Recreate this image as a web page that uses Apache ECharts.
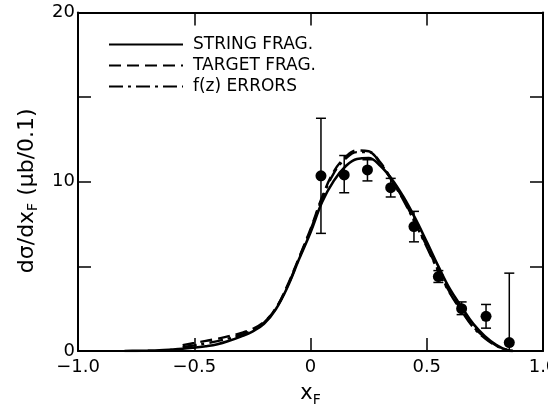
<!DOCTYPE html>
<html>
<head>
<meta charset="utf-8">
<script src="https://cdn.jsdelivr.net/npm/echarts@6/dist/echarts.min.js"></script>
<style>html,body{margin:0;padding:0;background:#fff}#c{width:548px;height:406px}</style>
</head>
<body>
<div id="c"></div>
<script>
// String fragmentation curve
var stringX = [-0.8,-0.75,-0.7,-0.65,-0.6,-0.55,-0.5,-0.45,-0.4,-0.35,-0.3,-0.25,-0.2,-0.15,-0.1,-0.05,0,0.05,0.1,0.15,0.2,0.25,0.3,0.35,0.4,0.45,0.5,0.55,0.6,0.65,0.7,0.75,0.8,0.85,0.87];
var stringY = [0,0.01,0.02,0.04,0.08,0.13,0.2,0.28,0.4,0.6,0.85,1.15,1.6,2.45,3.75,5.4,7.0,8.8,10.05,10.9,11.35,11.4,10.95,10.15,9.1,7.85,6.45,5.0,3.65,2.6,1.6,0.88,0.35,0.03,0];
// Target fragmentation and f(z) error curves
var altX = [-0.55,-0.5,-0.45,-0.4,-0.35,-0.3,-0.25,-0.2,-0.15,-0.1,-0.05,0,0.05,0.1,0.15,0.2,0.25,0.3,0.35,0.4,0.45,0.5,0.55,0.6,0.65,0.7,0.75,0.8,0.85,0.87];
var targetY = [0.35,0.47,0.6,0.72,0.88,1.05,1.3,1.72,2.5,3.85,5.5,7.2,9.1,10.6,11.45,11.85,11.8,11.15,10.1,8.95,7.6,6.2,4.75,3.45,2.4,1.45,0.8,0.32,0.04,0];
var fzY = [0.22,0.33,0.45,0.58,0.75,0.95,1.22,1.68,2.5,3.8,5.45,7.15,9.0,10.5,11.35,11.75,11.75,11.1,10.05,8.9,7.55,6.15,4.7,3.4,2.35,1.4,0.75,0.3,0.04,0];
// Data points with error bars
var ptX = [0.045,0.145,0.245,0.345,0.445,0.55,0.65,0.755,0.855];
var ptY = [10.35,10.4,10.7,9.65,7.35,4.4,2.5,2.05,0.5];
var ptLo = [6.95,9.35,10.05,9.1,6.45,4.05,2.15,1.35,0];
var ptHi = [13.75,11.55,11.3,10.2,8.25,4.75,2.9,2.75,4.6];
// Tick labels
var xTicks = {'-1':'−1.0','-0.5':'−0.5','0':'0','0.5':'0.5','1':'1.0'};
var yTicks = {'0':'0','10':'10','20':'20'};
var legendNames = ['STRING FRAG.','TARGET FRAG.','f(z) ERRORS'];

function zip(a,b){return a.map(function(v,i){return [v,b[i]];});}

var FONT = 'DejaVu Sans';
var chart = echarts.init(document.getElementById('c'), null, {renderer:'canvas'});
var axisCommon = {
  type:'value',
  axisLine:{show:true,onZero:false,lineStyle:{color:'#000',width:2}},
  axisTick:{show:true,inside:true,length:13,lineStyle:{color:'#000',width:1.5}},
  splitLine:{show:false}
};
chart.setOption({
  animation:false,
  backgroundColor:'#fff',
  textStyle:{fontFamily:FONT,color:'#000'},
  grid:{left:78,right:5,top:12.5,bottom:55,outerBoundsMode:'none',containLabel:false},
  legend:{
    data:legendNames,
    orient:'vertical',
    left:108, top:36, padding:0,
    itemWidth:74, itemHeight:14, itemGap:4,
    itemStyle:{color:'transparent',borderWidth:0,opacity:0},
    textStyle:{fontFamily:FONT,fontSize:17,color:'#000',padding:[0,0,0,5]},
    selectedMode:false
  },
  xAxis:[
    Object.assign({}, axisCommon, {
      min:-1,max:1,interval:0.5,position:'bottom',
      axisLabel:{show:true,color:'#000',fontFamily:FONT,fontSize:18,margin:7,
        formatter:function(v){var k=String(Math.round(v*10)/10);return xTicks[k]!==undefined?xTicks[k]:'';}},
      name:'{a|x}{s|F}', nameLocation:'middle', nameGap:30,
      nameTextStyle:{rich:{a:{fontFamily:FONT,fontSize:21,color:'#000',lineHeight:24},s:{fontFamily:FONT,fontSize:14,color:'#000',padding:[12,0,0,0]}}}
    }),
    Object.assign({}, axisCommon, {min:-1,max:1,interval:0.5,position:'top',axisLabel:{show:false}})
  ],
  yAxis:[
    Object.assign({}, axisCommon, {
      min:0,max:20,interval:5,position:'left',
      axisLabel:{show:true,color:'#000',fontFamily:FONT,fontSize:18,margin:3,
        formatter:function(v){var k=String(v);return yTicks[k]!==undefined?yTicks[k]:'';}},
      name:'{a|dσ/dx}{s|F}{a| (μb/0.1)}', nameLocation:'middle', nameGap:38,
      nameTextStyle:{padding:[0,18,0,0],rich:{a:{fontFamily:FONT,fontSize:22,color:'#000',lineHeight:24},s:{fontFamily:FONT,fontSize:14,color:'#000',padding:[12,0,0,0]}}}
    }),
    Object.assign({}, axisCommon, {min:0,max:20,interval:5,position:'right',axisLabel:{show:false}})
  ],
  series:[
    {name:legendNames[0],type:'line',data:zip(stringX,stringY),smooth:0.4,symbol:'none',showSymbol:false,
      lineStyle:{color:'#000',width:2.6,type:'solid'},itemStyle:{color:'#000'},z:3},
    {name:legendNames[1],type:'line',data:zip(altX,targetY),smooth:0.4,symbol:'none',showSymbol:false,
      lineStyle:{color:'#000',width:2.4,type:[12,6]},itemStyle:{color:'#000'},z:3},
    {name:legendNames[2],type:'line',data:zip(altX,fzY),smooth:0.4,symbol:'none',showSymbol:false,
      lineStyle:{color:'#000',width:2.4,type:[14,5,3,5]},itemStyle:{color:'#000'},z:3},
    {name:'errors',type:'custom',z:4,
      data:ptX.map(function(x,i){return [x,ptLo[i],ptHi[i]];}),
      renderItem:function(params,api){
        var lo=api.coord([api.value(0),api.value(1)]);
        var hi=api.coord([api.value(0),api.value(2)]);
        var w=5;
        var st={stroke:'#000',lineWidth:1.5};
        return {type:'group',children:[
          {type:'line',shape:{x1:hi[0],y1:hi[1],x2:lo[0],y2:lo[1]},style:st},
          {type:'line',shape:{x1:hi[0]-w,y1:hi[1],x2:hi[0]+w,y2:hi[1]},style:st},
          {type:'line',shape:{x1:lo[0]-w,y1:lo[1],x2:lo[0]+w,y2:lo[1]},style:st}
        ]};
      }
    },
    {name:'data',type:'scatter',data:zip(ptX,ptY),symbol:'circle',symbolSize:11,
      itemStyle:{color:'#000',opacity:1},z:5}
  ]
});
</script>
</body>
</html>
